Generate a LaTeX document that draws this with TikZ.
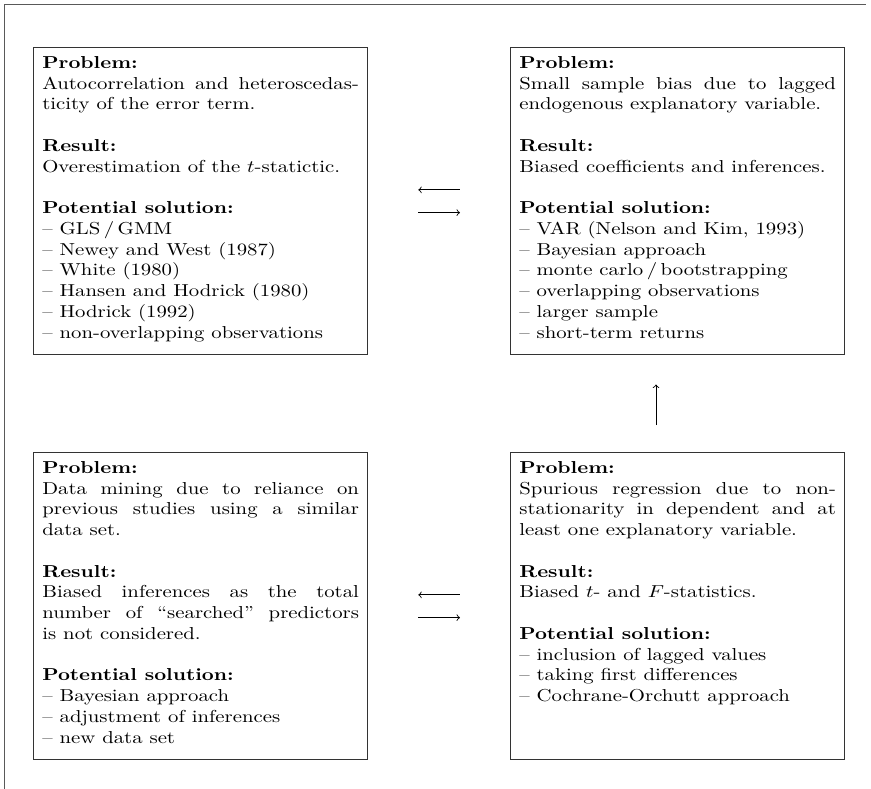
\documentclass[tikz,border=0pt]{standalone}
\usepackage{graphicx}
\tikzset{
  panel/.style={draw=black!80, line width=0.8pt, inner sep=5pt, anchor=north west},
  framel/.style={draw=black!65, line width=0.9pt},
  conn/.style={line width=0.5pt},
}
\newcommand{\panelbox}[1]{\scalebox{1.2}[1]{\begin{minipage}[t][167.5pt][t]{152.5pt}#1\end{minipage}}}
\newcommand{\gapline}{\par\vspace{\baselineskip}}
\begin{document}
\begin{tikzpicture}[x=0.578pt,y=-0.578pt]
\useasboundingbox (0,0) rectangle (871,789);
% partial frame
\coordinate (fbl) at (4.5,789);
\coordinate (ftl) at (4.5,4.5);
\coordinate (ftr) at (866,4.5);
\draw[framel] (fbl) -- (ftl) -- (ftr);

\node[panel] (tl) at (33,47) {\panelbox{%
\textbf{Problem:}\\
Autocorrelation and heteroscedasticity of the error term.\gapline
\textbf{Result:}\\
Overestimation of the $t$-statictic.\gapline
\textbf{Potential solution:}\\
-- GLS\,/\,GMM\\
-- Newey and West (1987)\\
-- White (1980)\\
-- Hansen and Hodrick (1980)\\
-- Hodrick (1992)\\
-- non-overlapping observations}};

\node[panel] (tr) at (510,47) {\panelbox{%
\textbf{Problem:}\\
Small sample bias due to lagged\linebreak endogenous explanatory variable.\gapline
\textbf{Result:}\\
Biased coefficients and inferences.\gapline
\textbf{Potential solution:}\\
-- VAR (Nelson and Kim, 1993)\\
-- Bayesian approach\\
-- monte carlo\,/\,bootstrapping\\
-- overlapping observations\\
-- larger sample\\
-- short-term returns}};

\node[panel] (bl) at (33,452) {\panelbox{%
\textbf{Problem:}\\
Data mining due to reliance on\linebreak previous studies using a similar\linebreak data set.\gapline
\textbf{Result:}\\
Biased inferences as the total\linebreak number of ``searched'' predictors\linebreak is not considered.\gapline
\textbf{Potential solution:}\\
-- Bayesian approach\\
-- adjustment of inferences\\
-- new data set}};

\node[panel] (br) at (510,452) {\panelbox{%
\textbf{Problem:}\\
Spurious regression due to non-stationarity in dependent and at least one explanatory variable.\gapline
\textbf{Result:}\\
Biased $t$- and $F$-statistics.\gapline
\textbf{Potential solution:}\\
-- inclusion of lagged values\\
-- taking first differences\\
-- Cochrane-Orchutt approach}};

% connectors
\draw[conn, to-, shorten <=28.9pt, shorten >=28.9pt] ([yshift=6.6pt]tl.east) -- ([yshift=6.6pt]tr.west);
\draw[conn, -to, shorten <=28.9pt, shorten >=28.9pt] ([yshift=-6.6pt]tl.east) -- ([yshift=-6.6pt]tr.west);
\draw[conn, to-, shorten <=28.9pt, shorten >=28.9pt] ([yshift=6.6pt]bl.east) -- ([yshift=6.6pt]br.west);
\draw[conn, -to, shorten <=28.9pt, shorten >=28.9pt] ([yshift=-6.6pt]bl.east) -- ([yshift=-6.6pt]br.west);
\coordinate (upx) at (656,0);
\draw[conn, -to, shorten <=15.6pt, shorten >=16.8pt] (br.north -| upx) -- (tr.south -| upx);
\end{tikzpicture}
\end{document}
